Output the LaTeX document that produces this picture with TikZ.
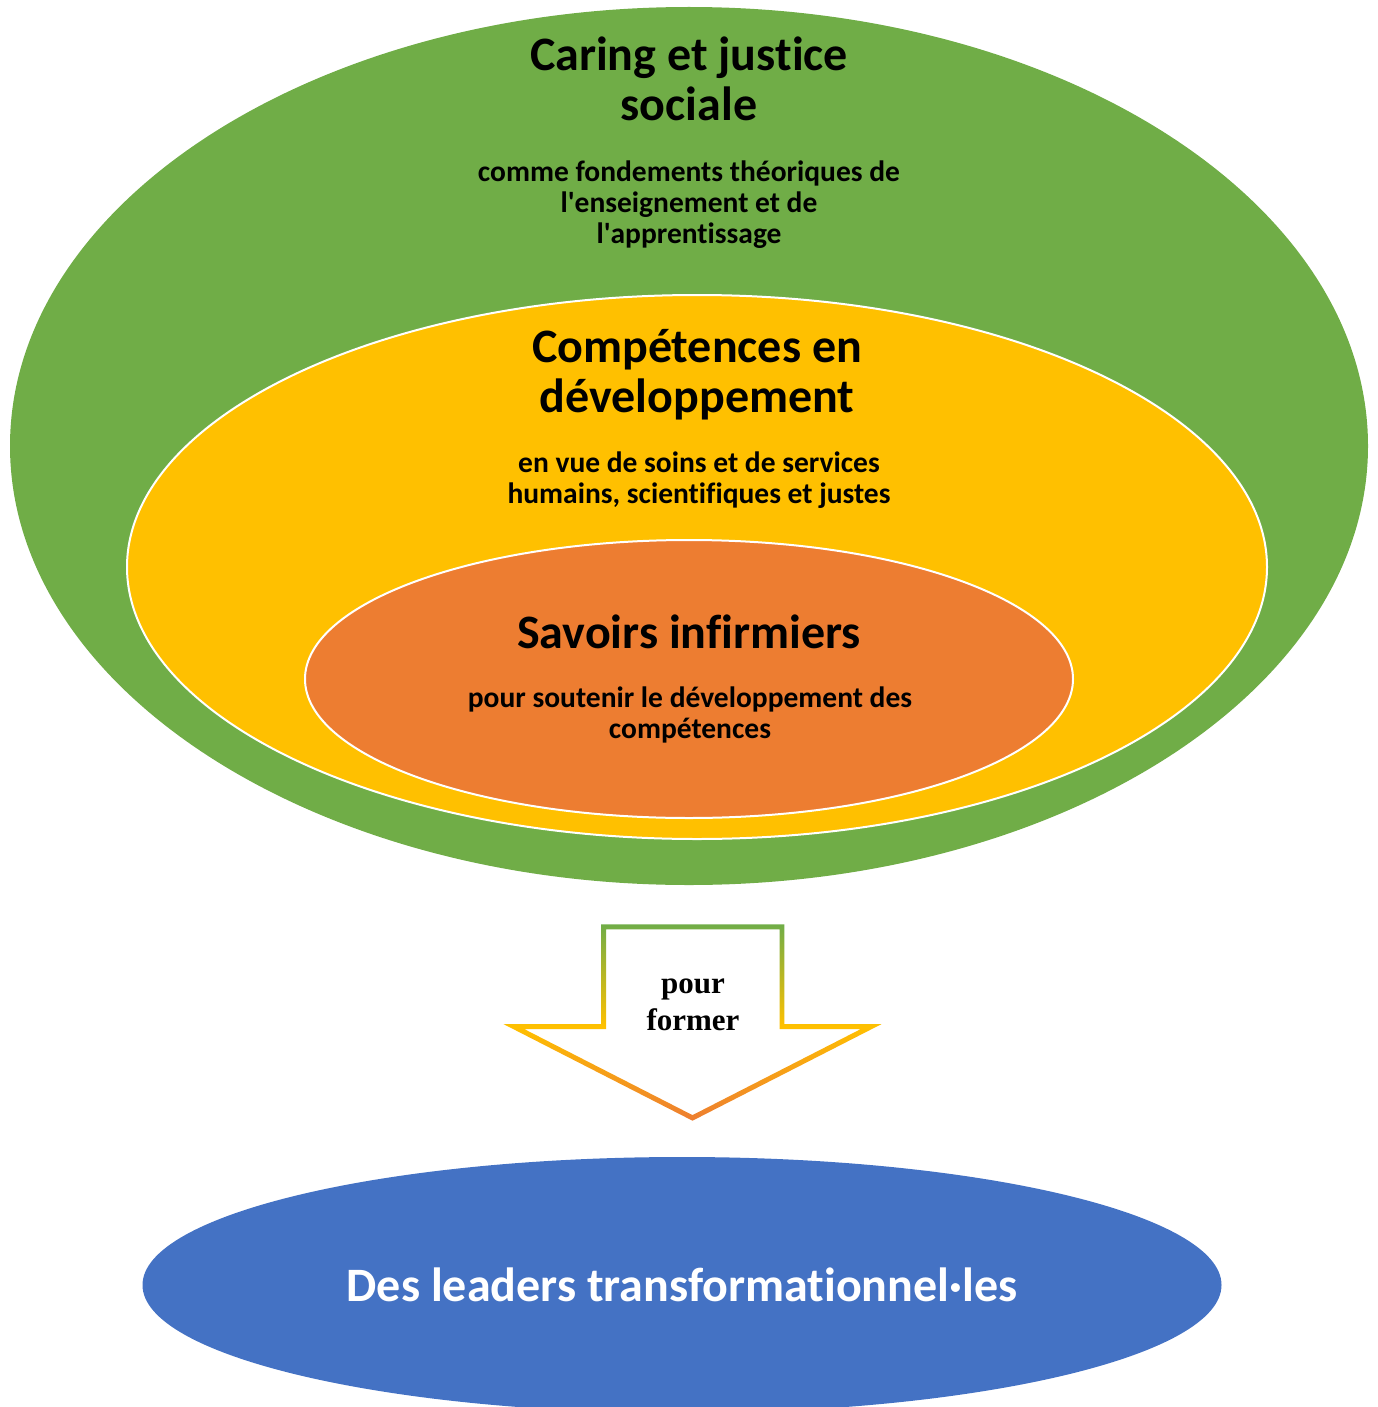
\documentclass[tikz,border=0pt]{standalone}
\usepackage{fontspec}
\setmainfont{Carlito}[Ligatures=CommonOff]
\newfontfamily\arrowfont{Liberation Serif}
\usetikzlibrary{shapes.geometric}
\definecolor{ringgreen}{HTML}{70AD47}
\definecolor{ringyellow}{HTML}{FFC000}
\definecolor{ringorange}{HTML}{ED7D31}
\definecolor{leaderblue}{HTML}{4472C4}
% outline colours of the arrow: green at the top, yellow at the shoulders, orange at the tip
\pgfdeclareverticalshading{arrowshade}{100bp}{%
  color(0bp)=(ringorange); color(25bp)=(ringorange); color(49bp)=(ringyellow);
  color(75bp)=(ringgreen); color(100bp)=(ringgreen)}
\tikzset{
  ring/.style={ellipse, inner sep=0pt},
  headline/.style={anchor=base, align=center, text=black,
    font=\bfseries\fontsize{48}{50}\selectfont},
  subline/.style={anchor=base, align=center, text=black,
    font=\bfseries\fontsize{29.5}{31}\selectfont},
}
\begin{document}
\begin{tikzpicture}[x=1pt, y=-1pt]
\useasboundingbox (0,0) rectangle (1377,1407);

% nested rings
\node[ring, fill=ringgreen, minimum width=1358pt, minimum height=878pt] (caring) at (689,446) {};
\node[ring, fill=ringyellow, draw=white, line width=2pt, minimum width=1140pt, minimum height=544pt] (competences) at (697,567) {};
\node[ring, fill=ringorange, draw=white, line width=2pt, minimum width=768pt, minimum height=278pt] (savoirs) at (689,679) {};

% ring texts (each node sits on the baseline of its last line)
\node[headline] (caringtitle) at (689,121) {Caring et justice\\sociale};
\node[subline] (caringsub) at (689,243) {comme fondements théoriques de\\l\textquotesingle enseignement et de\\l\textquotesingle apprentissage};
\node[headline] (comptitle) at (697,412) {Compétences en\\développement};
\node[subline] (compsub) at (699,503) {en vue de soins et de services\\humains, scientifiques et justes};
\node[headline] (savtitle) at (689,648) {Savoirs infirmiers};
\node[subline] (savsub) at (690,738) {pour soutenir le développement des\\compétences};

% down arrow with a shaded outline (outer contour, then inner contour)
\shade[shading=arrowshade, even odd rule]
  (601,924.3) -- (784.3,924.3) -- (784.3,1024) -- (881.7,1024) -- (692.5,1120.7)
  -- (503.3,1024) -- (601,1024) -- cycle
  (606,929.3) -- (606,1029) -- (524.1,1029) -- (692.5,1115.1)
  -- (860.9,1029) -- (779.5,1029) -- (779.5,929.3) -- cycle;
\node[anchor=base, align=center, font=\arrowfont\bfseries\fontsize{31}{37}\selectfont] (pourformer) at (693,1030) {pour\\former};

% result
\node[ring, fill=leaderblue, minimum width=1079pt, minimum height=256pt] (leaders) at (682,1285) {};
\node[anchor=base, text=white, font=\bfseries\fontsize{48}{50}\selectfont] (leaderstext) at (682,1301) {Des leaders transformationnel·les};
\end{tikzpicture}
\end{document}
